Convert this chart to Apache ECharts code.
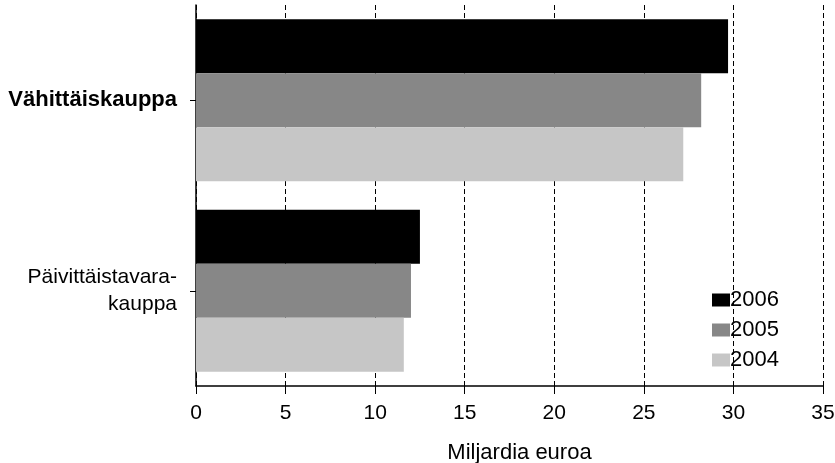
<!DOCTYPE html>
<html>
<head>
<meta charset="utf-8">
<script src="https://cdn.jsdelivr.net/npm/echarts@6/dist/echarts.min.js"></script>
<style>
html,body{margin:0;padding:0;background:#fff;}
#chart{width:835px;height:463px;}
</style>
</head>
<body>
<div id="chart"></div>
<script>
var categories = ['Vähittäiskauppa', 'Päivittäistavara-\nkauppa'];
var seriesNames = ['2006', '2005', '2004'];
var values2006 = [29.7, 12.5];
var values2005 = [28.2, 12.0];
var values2004 = [27.2, 11.6];
var xTicks = [0, 5, 10, 15, 20, 25, 30, 35];
var xAxisTitle = 'Miljardia euroa';

var FONT = '"Liberation Sans", Arial, sans-serif';
var chart = echarts.init(document.getElementById('chart'), null, {renderer: 'canvas'});

var colors = ['#000000', '#878787', '#c6c6c6'];
var data = [values2006, values2005, values2004];

var series = seriesNames.map(function (name, i) {
  return {
    name: name,
    type: 'bar',
    data: data[i],
    barGap: '0%',
    barCategoryGap: '15%',
    itemStyle: {color: colors[i]},
    emphasis: {disabled: true}
  };
});

chart.setOption({
  animation: false,
  backgroundColor: '#ffffff',
  textStyle: {fontFamily: FONT, color: '#000'},
  grid: {left: 196, top: 5, right: 12, bottom: 77, containLabel: false, outerBoundsMode: 'none'},
  legend: {
    data: seriesNames,
    orient: 'vertical',
    left: 707,
    top: 284,
    itemWidth: 18,
    itemHeight: 13,
    itemGap: 8,
    icon: 'rect',
    textStyle: {fontFamily: FONT, fontSize: 22, color: '#000', padding: [0, 0, 0, -5]},
    selectedMode: false
  },
  xAxis: {
    type: 'value',
    min: xTicks[0],
    max: xTicks[xTicks.length - 1],
    interval: 5,
    name: xAxisTitle,
    nameLocation: 'middle',
    nameGap: 56,
    nameTextStyle: {fontFamily: FONT, fontSize: 22, color: '#000', padding: [0, 0, 0, 20]},
    axisLine: {show: true, lineStyle: {color: '#000', width: 1.5}},
    axisTick: {show: true, length: 8, lineStyle: {color: '#000'}},
    axisLabel: {fontFamily: FONT, fontSize: 21, color: '#000', margin: 17},
    splitLine: {show: true, lineStyle: {color: '#000', type: [5, 3], width: 1}}
  },
  yAxis: {
    type: 'category',
    data: categories,
    inverse: true,
    axisLine: {show: true, lineStyle: {color: '#000', width: 1.5}},
    axisTick: {show: true, alignWithLabel: true, length: 6, lineStyle: {color: '#000'}},
    axisLabel: {
      fontFamily: FONT, fontSize: 21, color: '#000', margin: 19, align: 'right', lineHeight: 27,
      formatter: function (v, idx) { return idx === 0 ? '{b|' + v + '}' : v; },
      rich: {b: {fontFamily: FONT, fontSize: 22, fontWeight: 'bold', color: '#000'}}
    },
    splitLine: {show: false}
  },
  series: series
});
</script>
</body>
</html>
